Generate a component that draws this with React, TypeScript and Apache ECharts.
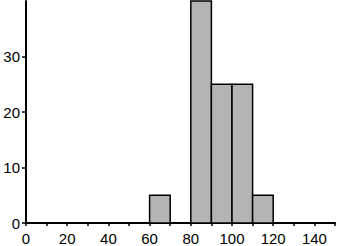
import React, { useEffect, useRef } from "react";
import * as echarts from "echarts";

const binStarts = [60, 80, 90, 100, 110];
const binWidth = 10;
const counts = [5, 40, 25, 25, 5];
const xTicks = [0, 20, 40, 60, 80, 100, 120, 140];

export default function App() {
  const ref = useRef<HTMLDivElement>(null);
  useEffect(() => {
    if (!ref.current) return;
    const chart = echarts.init(ref.current, undefined, { renderer: "svg" });
    const data = binStarts.map((s, i) => [s, s + binWidth, counts[i]]);
    chart.setOption({
      animation: false,
      grid: { left: 26, right: 1.5, top: 1, bottom: 23, containLabel: false },
      xAxis: {
        type: "value",
        min: 0,
        max: 150,
        interval: 10,
        splitLine: { show: false },
        axisLine: { show: true, onZero: false, lineStyle: { color: "#000", width: 2 } },
        axisTick: { show: true, length: 3, lineStyle: { color: "#000", width: 1.5 } },
        axisLabel: {
          margin: 8,
          color: "#000",
          fontSize: 15,
          fontFamily: "Liberation Sans",
          formatter: (v: number) => (xTicks.includes(v) ? String(v) : ""),
        },
      },
      yAxis: {
        type: "value",
        min: 0,
        max: 40,
        interval: 10,
        splitLine: { show: false },
        axisLine: { show: true, lineStyle: { color: "#000", width: 2 } },
        axisTick: { show: true, length: 4, lineStyle: { color: "#000", width: 1.5 } },
        axisLabel: {
          margin: 6,
          color: "#000",
          fontSize: 15,
          fontFamily: "Liberation Sans",
          showMaxLabel: false,
        },
      },
      series: [
        {
          type: "custom",
          data,
          encode: { x: [0, 1], y: 2 },
          renderItem: (params: any, api: any) => {
            const p0 = api.coord([api.value(0), api.value(2)]);
            const p1 = api.coord([api.value(1), 0]);
            return {
              type: "rect",
              shape: { x: p0[0], y: p0[1], width: p1[0] - p0[0], height: p1[1] - p0[1] },
              style: { fill: "#b4b4b4", stroke: "#000", lineWidth: 1.5 },
            };
          },
        },
      ],
    });
    return () => chart.dispose();
  }, []);
  return <div ref={ref} style={{ width: 338, height: 246, position: "absolute", left: 0, top: 0 }} />;
}
